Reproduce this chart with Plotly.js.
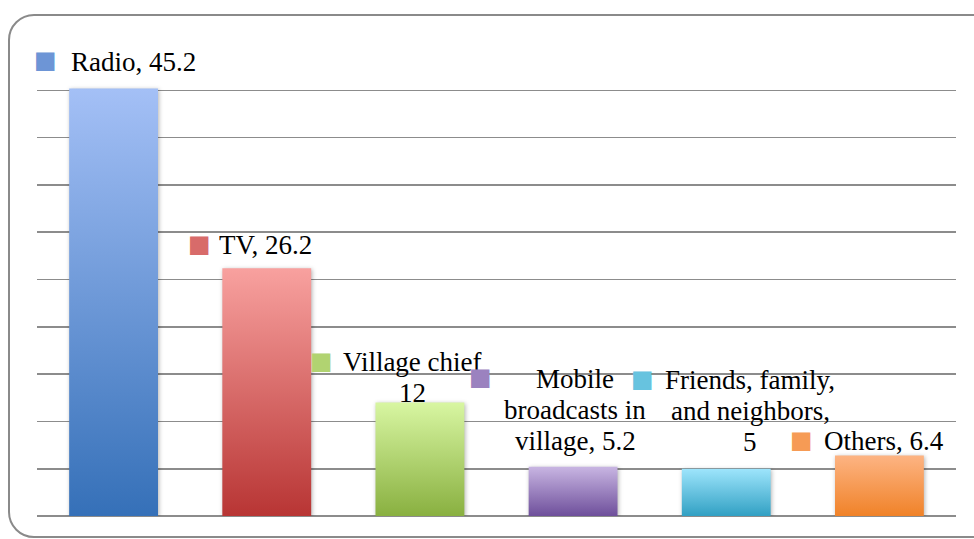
<!DOCTYPE html>
<html>
<head>
<meta charset="utf-8">
<script src="https://cdn.plot.ly/plotly-3.0.1.min.js"></script>
<style>
  body { margin: 0; background: #fff; }
  #wrap { position: relative; width: 974px; height: 539px; overflow: hidden; }
  #plot { width: 974px; height: 539px; }
  #frame {
    position: absolute; left: 8px; top: 14px; width: 990px; height: 520px;
    border: 2px solid #8a8a8a; border-radius: 26px; pointer-events: none;
  }
</style>
</head>
<body>
<div id="wrap">
  <div id="plot"></div>
  <div id="frame"></div>
</div>
<script>
// Data
const categories = ["Radio", "TV", "Village chief", "Mobile broadcasts in village", "Friends, family, and neighbors", "Others"];
const values = [45.2, 26.2, 12, 5.2, 5, 6.4];
const labelLines = [
    ["Radio, 45.2"],
    ["TV, 26.2"],
    ["Village chief", "12"],
    ["Mobile", "broadcasts in", "village, 5.2"],
    ["Friends, family,", "and neighbors,", "5"],
    ["Others, 6.4"]
];

// Gradient colours, top -> bottom
const topColors = ["#a4c0f6", "#f8a19f", "#d8f6a2", "#c8b5e2", "#9ee5fc", "#fdb483"];
const bottomColors = ["#3570b8", "#b83534", "#89b040", "#6e4f9b", "#31a0c3", "#f08228"];
const keyColors = ["#6d95d6", "#d86b6a", "#b1d371", "#9b82bf", "#67c3df", "#f69b55"];

// label placement relative to the bar top (pixels)
const labelShift = [[20, 26], [-1, 23], [-7, 25], [2, 57], [24, 58], [5, 14]];
const keyShift = [[-68, 28], [-67, 24], [-98, 41], [-93, 90], [-84, 90], [-78, 15]];
const lineStep = 31;

const font = { family: "Liberation Serif, Times New Roman, serif", size: 27, color: "#000" };
const xIdx = categories.map((_, i) => i);

let annotations = [];
values.forEach((v, i) => {
    let lines = labelLines[i];
    lines.forEach((t, j) => {
        annotations.push({
            x: i, y: v, xref: "x", yref: "y", text: t, showarrow: false,
            xanchor: "center", yanchor: "middle",
            xshift: labelShift[i][0],
            yshift: labelShift[i][1] + ((lines.length - 1) / 2 - j) * lineStep,
            font: font
        });
    });
    annotations.push({
        x: i, y: v, xref: "x", yref: "y", text: "■", showarrow: false,
        xanchor: "center", yanchor: "middle",
        xshift: keyShift[i][0], yshift: keyShift[i][1],
        font: { family: "DejaVu Sans", size: 24, color: keyColors[i] }
    });
});

let trace = {
    x: xIdx, y: values, type: "bar",
    marker: { color: bottomColors, line: { width: 0 } },
    hoverinfo: "none"
};

let layout = {
    width: 974, height: 539,
    margin: { l: 37, r: 18, t: 43, b: 23 },
    paper_bgcolor: "#fff", plot_bgcolor: "#fff",
    bargap: 0.42,
    showlegend: false,
    xaxis: { range: [-0.5, 5.5], showticklabels: false, showgrid: false, zeroline: false, showline: false, ticks: "" },
    yaxis: { range: [0, 50], dtick: 5, showticklabels: false, gridcolor: "#8c8c8c", gridwidth: 1.6,
             zeroline: true, zerolinecolor: "#8c8c8c", zerolinewidth: 1.6, showline: false, ticks: "" },
    annotations: annotations
};

Plotly.newPlot("plot", [trace], layout, { staticPlot: true }).then(function (gd) {
    // vertical gradient fill for each bar
    const svg = gd.querySelector(".main-svg");
    let defs = svg.querySelector("defs");
    const ns = "http://www.w3.org/2000/svg";
    topColors.forEach((c, i) => {
        let g = document.createElementNS(ns, "linearGradient");
        g.setAttribute("id", "barGrad" + i);
        g.setAttribute("x1", "0"); g.setAttribute("y1", "0");
        g.setAttribute("x2", "0"); g.setAttribute("y2", "1");
        let s1 = document.createElementNS(ns, "stop");
        s1.setAttribute("offset", "0"); s1.setAttribute("stop-color", c);
        let s2 = document.createElementNS(ns, "stop");
        s2.setAttribute("offset", "1"); s2.setAttribute("stop-color", bottomColors[i]);
        g.appendChild(s1); g.appendChild(s2);
        defs.appendChild(g);
    });
    gd.querySelectorAll(".barlayer .point path").forEach((p, i) => {
        p.style.fill = "url(#barGrad" + i + ")";
        p.style.filter = "drop-shadow(1px 1px 2px rgba(0,0,0,0.3))";
    });
});
</script>
</body>
</html>
